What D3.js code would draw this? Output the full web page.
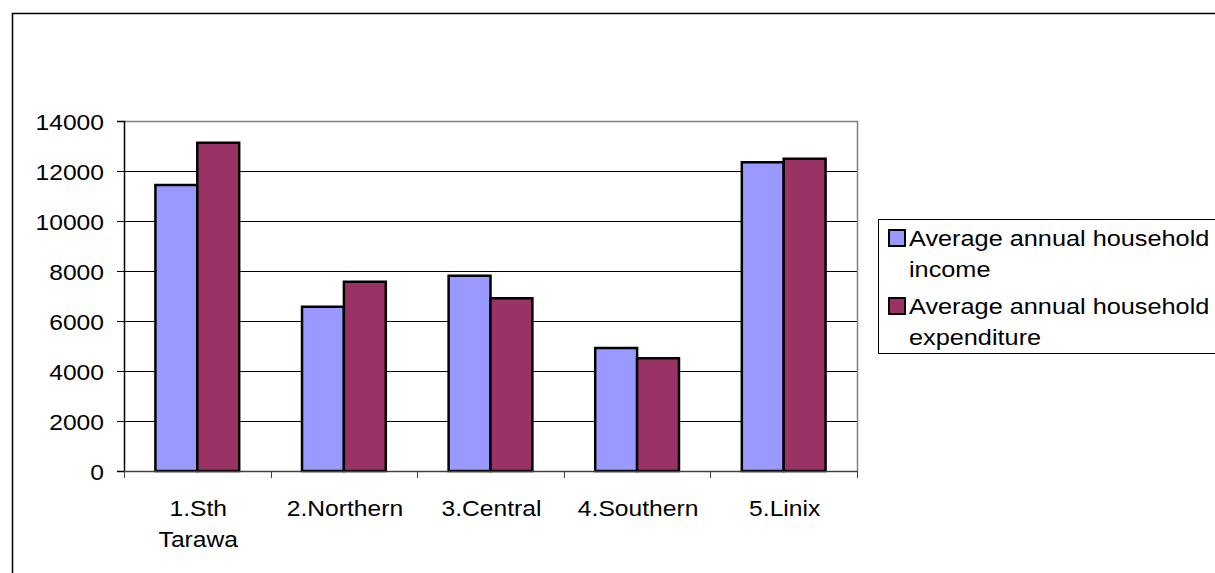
<!DOCTYPE html>
<html lang="en">
<head>
  <script src="https://d3js.org/d3.v7.min.js"></script>
  <style>
    body { margin: 0; background: #fff; }
    svg text { font-family: "Liberation Sans", Arial, sans-serif; font-size: 22px; fill: #000; }
  </style>
</head>
<body>
<script>
  // values
  var categories = ["1.Sth Tarawa", "2.Northern", "3.Central", "4.Southern", "5.Linix"];
  var income = [11440, 6570, 7810, 4920, 12350];
  var expenditure = [13130, 7570, 6910, 4510, 12490];
  var seriesNames = ["Average annual household income", "Average annual household expenditure"];
  var seriesColors = ["#9999FF", "#993366"];
  var yTicks = [0, 2000, 4000, 6000, 8000, 10000, 12000, 14000];

  var W = 1215, H = 573;
  var sx = 1.12; // text in the picture is a bit wider than tall
  var pL = 124, pR = 857, pT = 121, pB = 471;

  var svg = d3.select("body").append("svg").attr("width", W).attr("height", H);

  // outer chart border, runs off the right and bottom
  svg.append("rect").attr("x", 12.5).attr("y", 13.5).attr("width", W).attr("height", H)
    .attr("fill", "none").attr("stroke", "#000").attr("stroke-width", 1.5);

  var x = d3.scaleBand().domain(categories).range([pL, pR]).paddingInner(0).paddingOuter(0);
  var y = d3.scaleLinear().domain([0, 14000]).range([pB, pT]);
  var xs = d3.scaleBand().domain([0, 1]).range([0, x.bandwidth()]).paddingInner(0).paddingOuter(0.75);

  // gridlines
  svg.append("g").selectAll("line").data(yTicks.slice(1, -1)).enter().append("line")
    .attr("x1", pL).attr("x2", pR)
    .attr("y1", function(d) { return Math.round(y(d)) + 0.5; })
    .attr("y2", function(d) { return Math.round(y(d)) + 0.5; })
    .attr("stroke", "#000").attr("stroke-width", 1);

  // plot area border (top / right)
  svg.append("path")
    .attr("d", "M" + pL + "," + (pT + 0.5) + "H" + (pR + 0.5) + "V" + pB)
    .attr("fill", "none").attr("stroke", "#808080").attr("stroke-width", 1.5);

  // bars
  var rows = categories.map(function(c, i) { return { cat: c, vals: [income[i], expenditure[i]] }; });
  var groups = svg.append("g").selectAll("g").data(rows).enter().append("g")
    .attr("transform", function(d) { return "translate(" + x(d.cat) + ",0)"; });
  groups.selectAll("rect").data(function(d) { return d.vals; }).enter().append("rect")
    .attr("x", function(d, j) { return xs(j); })
    .attr("width", xs.bandwidth())
    .attr("y", function(d) { return y(d); })
    .attr("height", function(d) { return y(0) - y(d); })
    .attr("fill", function(d, j) { return seriesColors[j]; })
    .attr("stroke", "#000").attr("stroke-width", 2.5);

  // y axis
  var yAxis = svg.append("g").attr("transform", "translate(" + pL + ",0)")
    .call(d3.axisLeft(y).tickValues(yTicks).tickSize(7).tickPadding(0).tickFormat(d3.format("d")));
  yAxis.select(".domain").attr("stroke", "#000").attr("stroke-width", 1.5);
  yAxis.selectAll(".tick line").attr("stroke", "#000");
  yAxis.selectAll(".tick text")
    .attr("x", -20 / sx).attr("dy", null).attr("y", 8)
    .attr("transform", "scale(" + sx + ",1)")
    .style("font-size", "22px").style("font-family", "'Liberation Sans', Arial, sans-serif")
    .attr("fill", "#000");

  // x axis: ticks on band edges, labels in band centres
  var xAxis = svg.append("g").attr("transform", "translate(0," + pB + ")");
  xAxis.append("line").attr("x1", pL).attr("x2", pR).attr("y1", 0.5).attr("y2", 0.5)
    .attr("stroke", "#404040").attr("stroke-width", 1.5);
  var edges = categories.map(function(c) { return x(c); }).concat([pR]);
  xAxis.selectAll(".edge").data(edges).enter().append("line")
    .attr("x1", function(d) { return Math.round(d) + 0.5; })
    .attr("x2", function(d) { return Math.round(d) + 0.5; })
    .attr("y1", 0).attr("y2", 7).attr("stroke", "#404040").attr("stroke-width", 1);
  var labs = xAxis.selectAll(".lab").data(categories).enter().append("text")
    .attr("transform", function(d) { return "translate(" + (x(d) + x.bandwidth() / 2 + 1) + ",45) scale(" + sx + ",1)"; })
    .attr("text-anchor", "middle");
  labs.selectAll("tspan").data(function(d) { return d.split(" "); }).enter().append("tspan")
    .attr("x", 0).attr("y", function(d, i) { return i * 31; })
    .text(function(d) { return d; });

  // legend
  var legend = svg.append("g");
  legend.append("rect").attr("x", 878.5).attr("y", 219.5).attr("width", 400).attr("height", 134)
    .attr("fill", "#fff").attr("stroke", "#000").attr("stroke-width", 1);
  var entry = legend.selectAll(".entry").data(seriesNames).enter().append("g")
    .attr("transform", function(d, i) { return "translate(0," + (i * 68) + ")"; });
  entry.append("rect").attr("x", 889).attr("y", 230).attr("width", 16).attr("height", 16)
    .attr("fill", function(d, i) { return seriesColors[i]; })
    .attr("stroke", "#000").attr("stroke-width", 2);
  var lt = entry.append("text").attr("transform", "translate(909,246) scale(1.15,1)");
  lt.append("tspan").attr("x", 0).attr("y", 0).text("Average annual household");
  lt.append("tspan").attr("x", 0).attr("y", 31).text(function(d) { return d.replace("Average annual household ", ""); });
</script>
</body>
</html>
